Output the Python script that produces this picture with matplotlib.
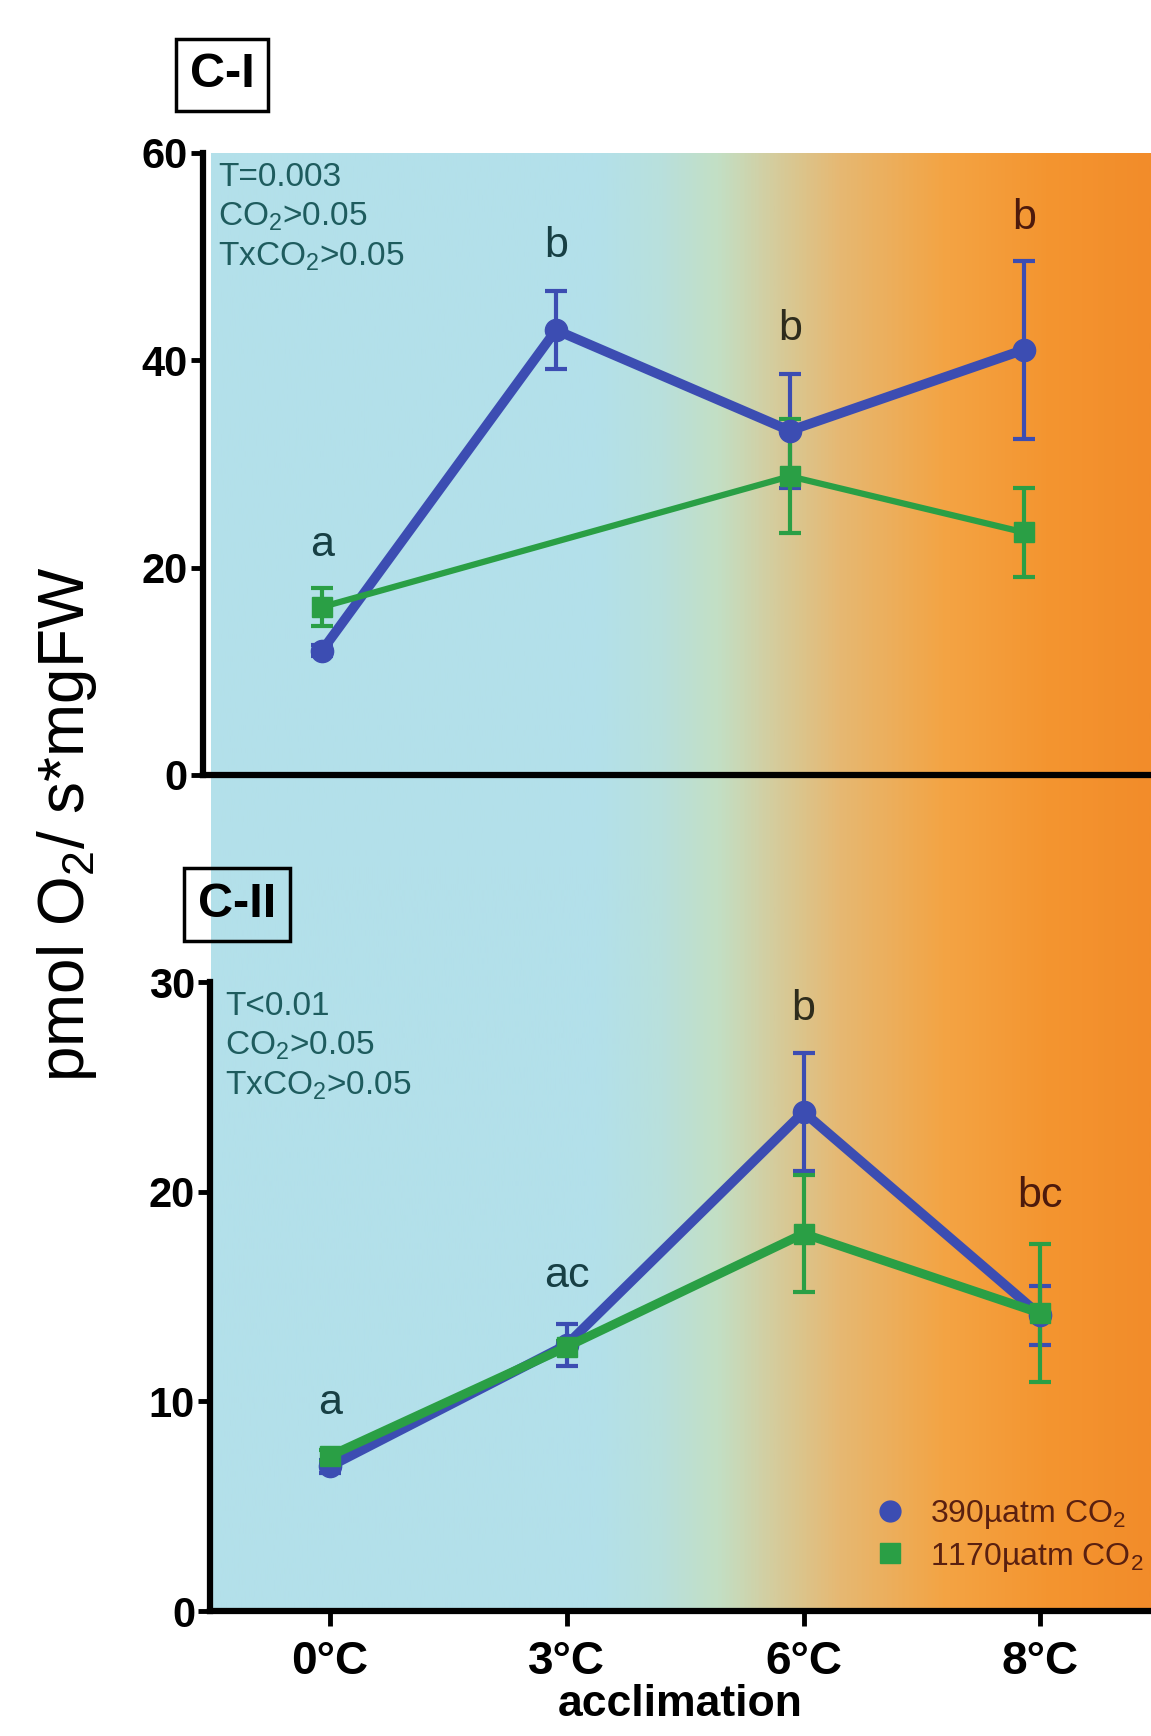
import numpy as np
import matplotlib
matplotlib.use('Agg')
import matplotlib.pyplot as plt
from matplotlib.colors import LinearSegmentedColormap
from matplotlib.lines import Line2D

plt.rcParams['font.family'] = ['Liberation Sans', 'DejaVu Sans']
plt.rcParams['mathtext.default'] = 'regular'

temps = ['0°C', '3°C', '6°C', '8°C']

# C-I
ci_390 = [12.0, 42.9, 33.2, 41.0]
ci_390_err = [0.5, 3.8, 5.5, 8.6]
ci_1170 = [16.2, np.nan, 28.8, 23.4]
ci_1170_err = [1.8, np.nan, 5.5, 4.3]
ci_letters = ['a', 'b', 'b', 'b']
ci_letter_y = [22.2, 51.0, 43.0, 53.7]
ci_stats = ['T=0.003', 'CO$_2$>0.05', 'TxCO$_2$>0.05']

# C-II
cii_390 = [6.9, 12.7, 23.8, 14.1]
cii_390_err = [0.3, 1.0, 2.8, 1.4]
cii_1170 = [7.4, 12.6, 18.0, 14.2]
cii_1170_err = [0.3, 0.3, 2.8, 3.3]
cii_letters = ['a', 'ac', 'b', 'bc']
cii_letter_y = [9.9, 16.0, 28.7, 19.8]
cii_stats = ['T<0.01', 'CO$_2$>0.05', 'TxCO$_2$>0.05']

series_labels = ['390µatm CO$_2$', '1170µatm CO$_2$']

BLUE = '#3c4db2'
GREEN = '#2a9f45'
letter_colors = ['#173f44', '#173f44', '#2e2c1c', '#4d1a0c']

fig = plt.figure(figsize=(11.51, 17.36), dpi=100)

# temperature gradient behind both panels
bg = fig.add_axes([0.183, 0.072, 0.817, 0.84])
grad = LinearSegmentedColormap.from_list('temp', [
    (0.0, '#b3e0ea'), (0.41, '#b3e0ea'), (0.48, '#b9e0dc'), (0.54, '#c3dfc4'),
    (0.60, '#d5cc9c'), (0.67, '#e6b872'), (0.78, '#f3a444'), (0.89, '#f49530'),
    (1.0, '#f28c2a')])
bg.imshow(np.linspace(0, 1, 512)[None, :], cmap=grad, aspect='auto', extent=[0, 1, 0, 1])
bg.axis('off')


def draw_panel(ax, y390, e390, y1170, e1170, letters, letter_y, stats, ymax, lw_green):
    x = np.arange(len(temps))
    ax.patch.set_visible(False)
    ax.errorbar(x, y390, yerr=e390, fmt='-o', color=BLUE, lw=7, ms=16,
                capsize=8, elinewidth=3, capthick=3)
    g = np.array(y1170)
    ok = ~np.isnan(g)
    ax.errorbar(x[ok], g[ok], yerr=np.array(e1170)[ok], fmt='-s', color=GREEN, lw=lw_green,
                ms=15, capsize=8, elinewidth=3, capthick=3)
    for xi, (t, ty, c) in enumerate(zip(letters, letter_y, letter_colors)):
        ax.text(xi, ty, t, ha='center', va='center', fontsize=31, color=c)
    ax.text(0.016, 0.985, '\n'.join(stats), transform=ax.transAxes, ha='left', va='top',
            fontsize=24, color='#1e5c5e', linespacing=1.3)
    ax.set_ylim(0, ymax)
    ax.set_yticks(np.arange(0, ymax + 1, 10 if ymax == 30 else 20))
    for s in ['top', 'right']:
        ax.spines[s].set_visible(False)
    for s in ['left', 'bottom']:
        ax.spines[s].set_linewidth(4.5)
    ax.tick_params(axis='y', length=9, width=3.5, labelsize=30, pad=2)
    for lab in ax.get_yticklabels():
        lab.set_fontweight('bold')


ax1 = fig.add_axes([0.176, 0.5536, 0.824, 0.3584])
draw_panel(ax1, ci_390, ci_390_err, ci_1170, ci_1170_err, ci_letters, ci_letter_y,
           ci_stats, 60, 4.5)
ax1.set_xlim(-0.511, 3.544)
ax1.set_xticks(range(len(temps)))
ax1.tick_params(axis='x', length=0, labelbottom=False)

ax2 = fig.add_axes([0.1827, 0.072, 0.8173, 0.3623])
draw_panel(ax2, cii_390, cii_390_err, cii_1170, cii_1170_err, cii_letters, cii_letter_y,
           cii_stats, 30, 6.5)
ax2.set_xlim(-0.505, 3.467)
ax2.set_xticks(range(len(temps)))
ax2.set_xticklabels(temps, fontsize=33, fontweight='bold')
ax2.tick_params(axis='x', length=11, width=3.5, pad=10)
ax2.set_xlabel('acclimation', fontsize=32, fontweight='bold', labelpad=0)

handles = [Line2D([], [], marker='o', color=BLUE, ls='none', ms=15),
           Line2D([], [], marker='s', color=GREEN, ls='none', ms=15)]
ax2.legend(handles, series_labels, loc='upper left', bbox_to_anchor=(0.675, 0.2),
           frameon=False, fontsize=23, handletextpad=0.25, labelspacing=0.3,
           labelcolor='#5a2010', borderaxespad=0)

box = dict(boxstyle='square,pad=0.28', fc='none', ec='black', lw=2.5)
fig.text(0.193, 0.957, 'C-I', ha='center', va='center', fontsize=35, fontweight='bold',
         bbox=box)
fig.text(0.206, 0.479, 'C-II', ha='center', va='center', fontsize=35, fontweight='bold',
         bbox=box)

fig.text(0.058, 0.525, 'pmol O$_2$/ s*mgFW', rotation=90, ha='center', va='center',
         fontsize=46)

fig.savefig('out.png', dpi=100)
